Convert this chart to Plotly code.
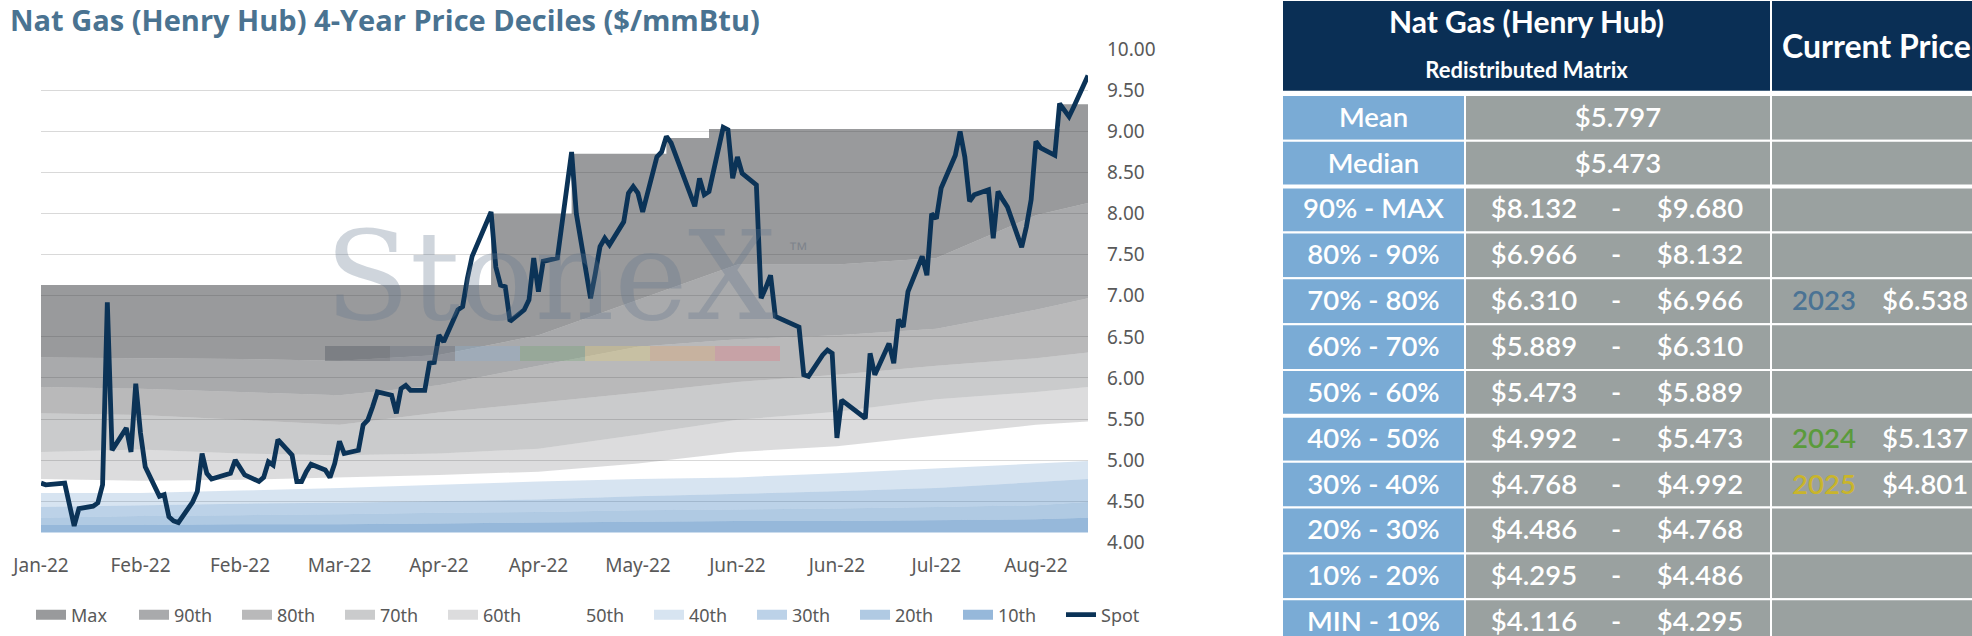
import pandas as pd
import plotly.graph_objects as go

W, H = 1972, 636

# ---------------- data ----------------
# trading days (NYMEX holidays skipped)
holidays = ["2022-01-17", "2022-02-21", "2022-04-15", "2022-05-30", "2022-06-20", "2022-07-04"]
spot_dates = pd.bdate_range("2022-01-13", "2022-08-22", freq="C", holidays=holidays)

spot = [
    # Jan
    4.72, 4.70, 4.72, 4.46, 4.20, 4.41, 4.44, 4.48, 4.70, 6.92, 5.12, 5.39,
    # Feb
    5.10, 5.93, 5.33, 4.92, 4.56, 4.58, 4.31, 4.26, 4.24, 4.49, 4.62, 5.08, 4.84, 4.77,
    4.84, 5.00, 4.92, 4.82, 4.74,
    # Mar
    4.79, 4.98, 4.94, 5.25, 5.06, 4.74, 4.74, 4.86, 4.95, 4.88, 4.79, 4.96, 5.23, 5.08,
    5.12, 5.43, 5.49, 5.65, 5.83, 5.79, 5.57, 5.87, 5.91,
    # Apr
    5.85, 5.85, 6.18, 6.19, 6.52, 6.44, 6.83, 6.87, 7.21, 7.48, 8.02, 7.35, 7.13, 7.11,
    6.69, 6.83, 6.95, 7.46, 7.05, 7.42,
    # May
    7.46, 7.88, 8.30, 8.75, 8.00, 6.97, 7.27, 7.60, 7.70, 7.62, 7.90, 8.25, 8.33, 8.25,
    8.02, 8.69, 8.75, 8.94, 8.86, 8.70, 8.09,
    # Jun
    8.43, 8.23, 8.27, 9.05, 9.02, 8.43, 8.69, 8.49, 8.35, 6.97, 7.10, 7.25, 6.75, 6.65,
    6.62, 6.04, 6.02, 6.28, 6.34, 6.30, 5.27,
    # Jul
    5.73, 5.55, 5.51, 6.30, 6.04, 6.42, 6.18, 6.71, 6.62, 7.05, 7.48, 7.25, 8.00, 7.94,
    8.31, 8.71, 9.00, 8.69, 8.15, 8.23,
    # Aug
    8.29, 7.70, 8.27, 8.17, 8.08, 7.59, 7.84, 8.17, 8.88, 8.80, 8.71, 9.34, 9.26, 9.18,
    9.30, 9.68,
]

band_dates = ["2022-01-13", "2022-02-03", "2022-02-24", "2022-03-17", "2022-04-07", "2022-04-28",
              "2022-05-19", "2022-06-09", "2022-06-30", "2022-07-21", "2022-08-11", "2022-08-22"]
p_min = [4.12, 4.12, 4.12, 4.12, 4.12, 4.12, 4.12, 4.12, 4.12, 4.12, 4.12, 4.12]
p10 = [4.21, 4.21, 4.22, 4.22, 4.23, 4.24, 4.25, 4.26, 4.26, 4.27, 4.28, 4.30]
p20 = [4.30, 4.32, 4.33, 4.34, 4.36, 4.37, 4.39, 4.40, 4.41, 4.43, 4.45, 4.49]
p30 = [4.43, 4.45, 4.47, 4.48, 4.50, 4.52, 4.56, 4.59, 4.62, 4.66, 4.73, 4.77]
p40 = [4.60, 4.60, 4.63, 4.66, 4.70, 4.74, 4.77, 4.79, 4.84, 4.90, 4.96, 4.99]
p50 = [4.77, 4.75, 4.76, 4.79, 4.82, 4.86, 4.96, 5.10, 5.17, 5.30, 5.43, 5.47]
p60 = [5.10, 5.13, 5.08, 5.06, 5.08, 5.14, 5.31, 5.49, 5.59, 5.74, 5.83, 5.89]
p70 = [5.57, 5.55, 5.49, 5.43, 5.58, 5.70, 5.82, 5.95, 6.04, 6.15, 6.24, 6.31]
p80 = [5.89, 5.87, 5.83, 5.79, 5.91, 6.15, 6.38, 6.47, 6.52, 6.60, 6.83, 6.97]
p90 = [6.25, 6.24, 6.23, 6.21, 6.28, 6.52, 6.95, 7.38, 7.38, 7.46, 7.98, 8.13]

max_dates = ["2022-01-13", "2022-04-18", "2022-05-05", "2022-05-25", "2022-06-03", "2022-08-16", "2022-08-22"]
max_vals = [7.13, 8.00, 8.73, 8.92, 9.03, 9.33, 9.33]

tick_dates = ["2022-01-13", "2022-02-03", "2022-02-24", "2022-03-17", "2022-04-07", "2022-04-28",
              "2022-05-19", "2022-06-09", "2022-06-30", "2022-07-21", "2022-08-11"]
tick_labels = ["Jan-22", "Feb-22", "Feb-22", "Mar-22", "Apr-22", "Apr-22",
               "May-22", "Jun-22", "Jun-22", "Jul-22", "Aug-22"]

# table
row_labels = ["Mean", "Median", "90% - MAX", "80% - 90%", "70% - 80%", "60% - 70%", "50% - 60%",
              "40% - 50%", "30% - 40%", "20% - 30%", "10% - 20%", "MIN - 10%"]
mean_price = 5.797
median_price = 5.473
decile_edges = [4.116, 4.295, 4.486, 4.768, 4.992, 5.473, 5.889, 6.310, 6.966, 8.132, 9.680]
strip_years = ["2023", "2024", "2025"]
strip_prices = [6.538, 5.137, 4.801]

# ---------------- styles ----------------
NAVY = "#0b3357"
HEAD_NAVY = "#0a2f55"
LABEL_BLUE = "#7aabd5"
CELL_GRAY = "#9aa1a0"
TICK_GRAY = "#595959"
year_colors = ["#4b7394", "#5a9b3c", "#c9b52b"]

band_names = ["10th", "20th", "30th", "40th", "50th", "60th", "70th", "80th", "90th"]
band_tops = [p10, p20, p30, p40, p50, p60, p70, p80, p90]
band_fills = ["rgba(40,110,180,0.49)", "rgba(40,110,180,0.37)", "rgba(40,110,180,0.31)",
              "rgba(40,110,180,0.19)", None, "rgba(60,62,65,0.18)", "rgba(60,62,65,0.27)",
              "rgba(60,62,65,0.36)", "rgba(60,62,65,0.44)"]
max_fill = "rgba(60,62,65,0.52)"

fig = go.Figure()

fig.add_trace(go.Scatter(x=band_dates, y=p_min, mode="lines", line=dict(width=0),
                         showlegend=False, hoverinfo="skip"))
for name, top, fc in zip(band_names, band_tops, band_fills):
    fig.add_trace(go.Scatter(
        x=band_dates, y=top, name=name, mode="lines", line=dict(width=0),
        fill="tonexty" if fc else "none", fillcolor=fc,
        showlegend=False, hoverinfo="skip"))
fig.add_trace(go.Scatter(x=max_dates, y=max_vals, name="Max", mode="lines",
                         line=dict(width=0, shape="hv"), fill="tonexty", fillcolor=max_fill,
                         showlegend=False, hoverinfo="skip"))
fig.add_trace(go.Scatter(x=spot_dates, y=spot, name="Spot", mode="lines",
                         line=dict(color=NAVY, width=4.8), legendrank=11))

# legend swatches (block keys like the original)
legend_items = [("Max", max_fill)] + list(zip(band_names[::-1], band_fills[::-1]))
for rank, (name, fc) in enumerate(legend_items, start=1):
    fig.add_trace(go.Scatter(x=[None], y=[None], name=name, mode="lines",
                             line=dict(color=fc or "rgba(0,0,0,0)", width=10),
                             legendrank=rank, hoverinfo="skip"))

# ---------------- table (own axes x2/y2, one unit = one row) ----------------
ROW_PX = 45.85
HEAD = 2.07          # header block is 2 rows tall, then a small white gap
cols = [(0, 183), (183, 489), (489, 760)]
TFONT = "Lato"


def cell(x0, x1, y0, y1, color):
    return dict(type="rect", xref="x2", yref="y2", x0=x0, x1=x1, y0=y0, y1=y1,
                fillcolor=color, line=dict(color="white", width=2), layer="below")


shapes = [cell(cols[0][0], cols[1][1], 0, 2, HEAD_NAVY), cell(cols[2][0], cols[2][1], 0, 2, HEAD_NAVY)]
for r in range(len(row_labels)):
    shapes.append(cell(*cols[0], HEAD + r, HEAD + r + 1, LABEL_BLUE))
    shapes.append(cell(*cols[1], HEAD + r, HEAD + r + 1, CELL_GRAY))
    shapes.append(cell(*cols[2], HEAD + r, HEAD + r + 1, CELL_GRAY))
for yb in (HEAD + 2, HEAD + 7):
    shapes.append(dict(type="line", xref="x2", yref="y2", x0=0, x1=760, y0=yb, y1=yb,
                       line=dict(color="white", width=4), layer="below"))

TXT_DY = 0.045
rows_y = [HEAD + r + 0.5 + TXT_DY for r in range(len(row_labels))]
lo_txt, hi_txt, dash_txt, lo_y = [], [], [], []
for r in range(2, len(row_labels)):
    lo = decile_edges[11 - r]
    hi = decile_edges[12 - r]
    lo_txt.append(f"${lo:.3f}")
    hi_txt.append(f"${hi:.3f}")
    dash_txt.append("-")
    lo_y.append(rows_y[r])

tf = dict(family=TFONT, size=27.5, color="white", weight=600)


def text_trace(x, y, text, font, pos="middle center"):
    return go.Scatter(x=x, y=y, text=text, mode="text", textposition=pos, textfont=font,
                      xaxis="x2", yaxis="y2", showlegend=False, hoverinfo="skip")


fig.add_trace(text_trace([91.5] * len(row_labels), rows_y, row_labels, tf))
fig.add_trace(text_trace([336, 336], rows_y[:2], [f"${mean_price:.3f}", f"${median_price:.3f}"], tf))
fig.add_trace(text_trace([252] * len(lo_txt), lo_y, lo_txt, tf))
fig.add_trace(text_trace([334] * len(lo_txt), lo_y, dash_txt, tf))
fig.add_trace(text_trace([418] * len(hi_txt), lo_y, hi_txt, tf))

# place the current strip prices in the decile row they fall into
yr_y = []
for p in strip_prices:
    k = max(i for i in range(len(decile_edges) - 1) if decile_edges[i] <= p)
    yr_y.append(rows_y[11 - k])
fig.add_trace(text_trace([542] * 3, yr_y, strip_years,
                         dict(family=TFONT, size=27.5, color=year_colors, weight=600)))
fig.add_trace(text_trace([600] * 3, yr_y, [f"${p:.3f}" for p in strip_prices], tf, "middle right"))

fig.add_trace(text_trace([244.5], [0.56], ["Nat Gas (Henry Hub)"],
                         dict(family=TFONT, size=30, color="white", weight="bold")))
fig.add_trace(text_trace([244.5], [1.59], ["Redistributed Matrix"],
                         dict(family=TFONT, size=22, color="white", weight="bold")))
fig.add_trace(text_trace([500], [1.09], ["Current Price"],
                         dict(family=TFONT, size=32, color="white", weight="bold"), "middle right"))

# ---------------- watermark ----------------
stripe_cols = ["rgba(60,65,75,0.30)", "rgba(90,100,115,0.30)", "rgba(140,175,205,0.35)",
               "rgba(110,165,110,0.30)", "rgba(225,205,120,0.35)", "rgba(225,165,110,0.35)",
               "rgba(225,120,130,0.35)"]
for i, c in enumerate(stripe_cols):
    shapes.append(dict(type="rect", xref="paper", yref="paper",
                       x0=(325 + 65 * i) / W, x1=(390 + 65 * i) / W,
                       y0=1 - 361 / H, y1=1 - 346 / H, fillcolor=c, line=dict(width=0)))

annotations = [
    dict(text="StoneX", x=550 / W, y=1 - 276 / H, xref="paper", yref="paper", showarrow=False,
         xanchor="center", yanchor="middle",
         font=dict(family="DejaVu Serif", size=124, color="rgba(95,115,140,0.30)")),
    dict(text="™", x=798 / W, y=1 - 249 / H, xref="paper", yref="paper", showarrow=False,
         font=dict(family="Liberation Sans", size=20, color="rgba(95,105,120,0.45)")),
]

fig.update_layout(
    width=W, height=H, margin=dict(l=0, r=0, t=0, b=0, autoexpand=False),
    paper_bgcolor="white", plot_bgcolor="white",
    title=dict(text="Nat Gas (Henry Hub) 4-Year Price Deciles ($/mmBtu)",
               x=10 / W, xref="container", y=1 - 21 / H, yref="container",
               xanchor="left", yanchor="middle",
               font=dict(family="Open Sans", size=29, color="#4a7391", weight="bold")),
    xaxis=dict(domain=[41 / W, 1088 / W], type="date", range=["2022-01-13", "2022-08-22"],
               tickvals=tick_dates, ticktext=tick_labels, showgrid=False, zeroline=False,
               ticks="", ticklabelstandoff=10,
               tickfont=dict(family="Noto Sans", size=19, color=TICK_GRAY)),
    yaxis=dict(domain=[1 - 542.3 / H, 1 - 49.3 / H], range=[4, 10], tick0=4, dtick=0.5,
               tickformat=".2f", side="right", showgrid=True, gridcolor="#d9d9d9", gridwidth=1,
               zeroline=False, ticks="", ticklabelstandoff=18,
               tickfont=dict(family="Noto Sans", size=19, color=TICK_GRAY)),
    xaxis2=dict(domain=[1282 / W, 1], range=[0, 690], visible=False, anchor="y2", fixedrange=True),
    yaxis2=dict(domain=[0, 1], range=[H / ROW_PX, 0], visible=False, anchor="x2", fixedrange=True),
    legend=dict(orientation="h", x=31 / W, y=1 - 615 / H, xanchor="left", yanchor="middle",
                traceorder="normal",
                font=dict(family="Noto Sans", size=18, color=TICK_GRAY),
                entrywidth=58, entrywidthmode="pixels", bgcolor="rgba(0,0,0,0)"),
    shapes=shapes,
    annotations=annotations,
)

# page body has a default 8px margin; drop it so the figure sits at the page origin
fig.write_html("out.html", config={"displayModeBar": False},
               post_script="document.body.style.margin='0';")
